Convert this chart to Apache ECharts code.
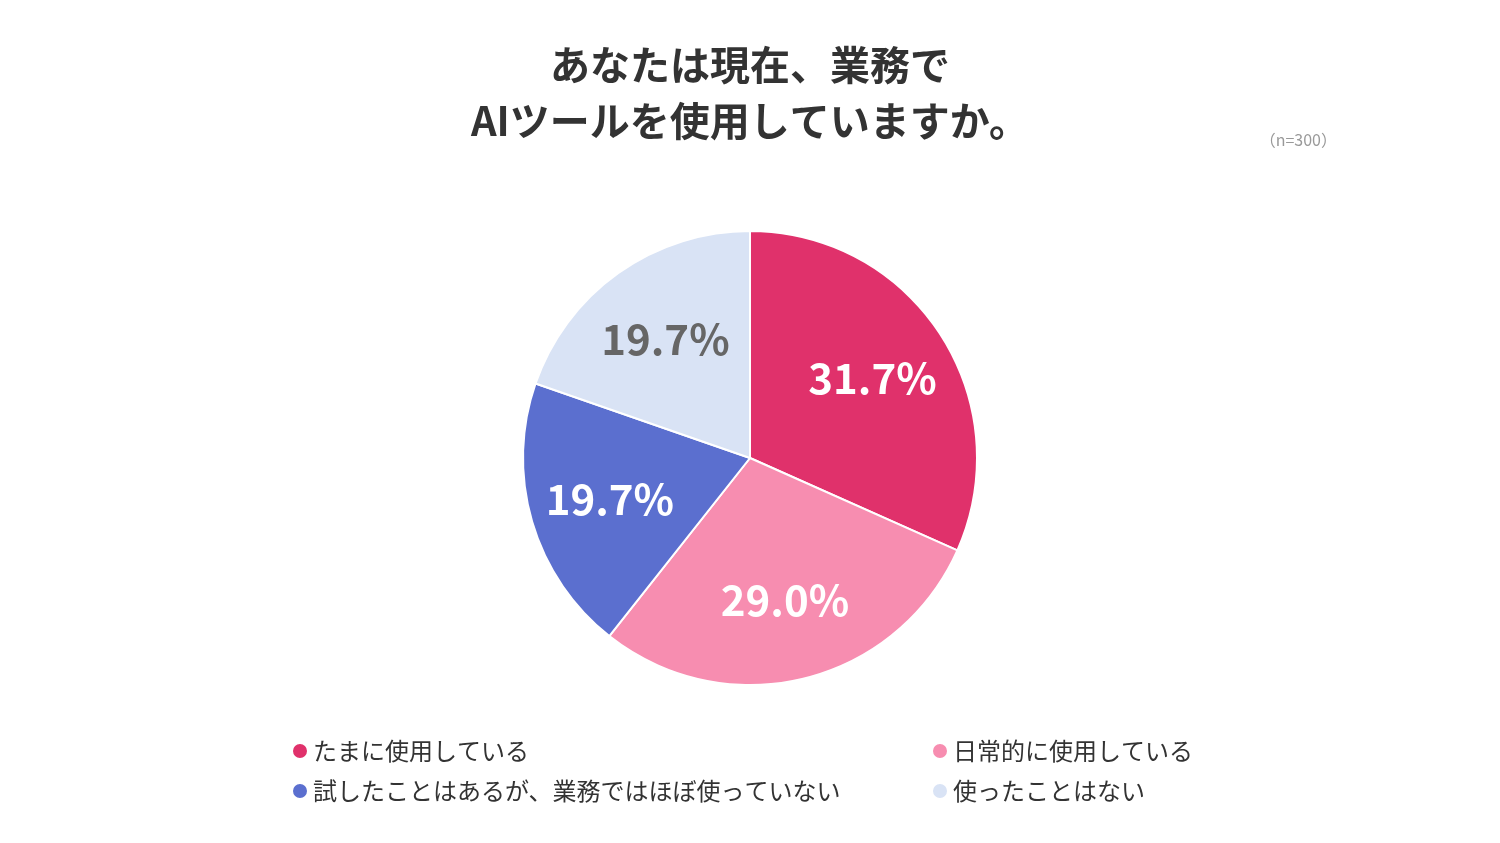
<!DOCTYPE html>
<html><head><meta charset="utf-8">
<script src="https://cdn.jsdelivr.net/npm/echarts@6/dist/echarts.min.js"></script>
<style>html,body{margin:0;padding:0;background:#fff}#c{width:1500px;height:843px}</style>
</head><body><div id="c"></div>
<script>
const categories = ['たまに使用している','日常的に使用している','試したことはあるが、業務ではほぼ使っていない','使ったことはない'];
const values = [31.7, 29.0, 19.7, 19.7];
const colors = ['#E0316B','#F78DB0','#5B6FCF','#D9E3F5'];
const labelColors = ['#fff','#fff','#fff','#666'];
const F = '"Noto Sans CJK JP","Noto Sans",sans-serif';
const chart = echarts.init(document.getElementById('c'));
const data = categories.map((n,i)=>({name:n,value:values[i],itemStyle:{color:colors[i]}}));
chart.setOption({
  animation:false,
  title:[{text:'あなたは現在、業務で\nAIツールを使用していますか。',left:'center',top:32,
    textStyle:{fontFamily:F,fontSize:40,fontWeight:'bold',color:'#333',lineHeight:56}},
    {text:'（n=300）',right:158,top:127,textStyle:{fontFamily:F,fontSize:16,color:'#999',fontWeight:'normal'}}],
  legend:[
    {data:[categories[0],categories[2]],orient:'vertical',left:286,top:734,itemGap:16,icon:'circle',itemWidth:16,itemHeight:16,
     textStyle:{fontFamily:F,fontSize:24,color:'#333'}},
    {data:[categories[1],categories[3]],orient:'vertical',left:926,top:734,itemGap:16,icon:'circle',itemWidth:16,itemHeight:16,
     textStyle:{fontFamily:F,fontSize:24,color:'#333'}}],
  series:[
    {type:'pie',center:[750,458],radius:[0,227],startAngle:90,clockwise:true,data:data,
     itemStyle:{borderColor:'#fff',borderWidth:2},label:{show:false},labelLine:{show:false},silent:true},
    {type:'pie',center:[750,458],radius:[0,286],startAngle:90,clockwise:true,silent:true,legendHoverLink:false,
     data:categories.map((n,i)=>({name:n+' ',value:values[i],itemStyle:{color:'transparent'},
       label:{color:labelColors[i]}})),
     label:{show:true,position:'inside',formatter:p=>values[p.dataIndex].toFixed(1)+'%',
       fontFamily:F,fontSize:42,fontWeight:'bold'},labelLine:{show:false}}
  ]
});
</script></body></html>
